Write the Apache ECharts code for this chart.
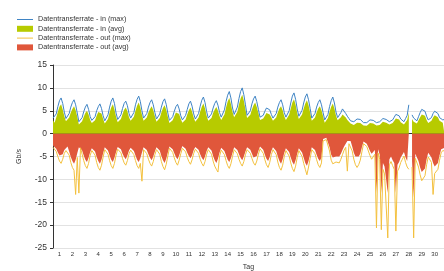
<!DOCTYPE html>
<html lang="de">
<head>
    <meta charset="UTF-8">
    <title>Datentransferrate</title>
    <script src="https://cdn.jsdelivr.net/npm/echarts@6.0.0/dist/echarts.min.js"></script>
</head>
<body>
<div id="chart" style="width: 444px;height: 271px"></div>
<script>
// 8 Messwerte pro Tag (alle 3 Stunden), Tag 1 beginnt bei x = 0
const SAMPLES_PER_DAY = 8
const dayLabels = ['1', '2', '3', '4', '5', '6', '7', '8', '9', '10', '11', '12', '13', '14', '15',
    '16', '17', '18', '19', '20', '21', '22', '23', '24', '25', '26', '27', '28', '29', '30']
const yTicks = [-25, -20, -15, -10, -5, 0, 5, 10, 15]

const inMax = [
    3.4, 3.0, 4.3, 5.9, 7.2, 7.8, 6.6, 4.7,
    3.3, 3.0, 4.4, 5.8, 6.8, 7.4, 6.3, 4.5,
    2.6, 2.2, 3.5, 4.8, 5.8, 6.4, 5.3, 3.7,
    2.9, 2.6, 3.7, 5.0, 5.9, 6.5, 5.5, 3.9,
    2.8, 2.4, 4.1, 5.8, 7.1, 7.8, 6.6, 4.5,
    3.1, 2.7, 4.1, 5.5, 6.6, 7.1, 6.1, 4.4,
    3.4, 3.0, 4.6, 6.3, 7.5, 8.2, 7.0, 5.0,
    3.4, 3.0, 4.4, 5.8, 6.8, 7.4, 6.3, 4.6,
    3.2, 2.8, 4.3, 5.8, 7.0, 7.6, 6.4, 4.5,
    2.9, 2.6, 3.7, 4.9, 5.9, 6.4, 5.4, 3.9,
    3.0, 2.6, 4.0, 5.3, 6.5, 7.1, 6.0, 4.3,
    3.2, 2.8, 4.4, 6.0, 7.3, 8.0, 6.8, 4.8,
    3.4, 3.0, 4.3, 5.6, 6.6, 7.2, 6.2, 4.6,
    3.6, 3.2, 5.2, 7.0, 8.4, 9.2, 7.8, 5.6,
    4.2, 3.8, 5.8, 7.7, 9.2, 10.0, 8.5, 6.3,
    4.0, 3.6, 5.0, 6.5, 7.6, 8.2, 7.0, 5.3,
    3.6, 3.2, 4.0, 4.9, 5.6, 6.0, 5.2, 4.2,
    3.4, 3.0, 4.4, 5.8, 6.8, 7.4, 6.3, 4.6,
    3.6, 3.2, 5.0, 6.7, 8.2, 8.9, 7.5, 5.4,
    3.8, 3.4, 5.1, 6.7, 8.0, 8.7, 7.4, 5.5,
    3.4, 3.0, 4.4, 5.8, 6.8, 7.4, 6.3, 4.6,
    3.0, 2.6, 4.2, 5.9, 7.2, 8.0, 6.7, 4.7,
    3.5, 3.2, 4.6, 5.4, 5.0, 4.4, 3.8, 3.3,
    2.8, 2.4, 2.6, 2.9, 3.2, 3.5, 3.1, 2.7,
    2.4, 2.1, 2.4, 2.7, 3.0, 3.2, 2.9, 2.5,
    2.4, 2.2, 2.6, 3.0, 3.3, 3.5, 3.1, 2.7,
    2.6, 2.4, 3.0, 3.6, 4.2, 4.5, 3.9, 3.2,
    2.9, 2.6, 3.3, 4.0, 6.3, null, 4.1, 3.4,
    3.1, 2.8, 3.7, 4.6, 5.3, 5.6, 4.9, 3.8,
    3.0, 2.7, 3.5, 4.4, 4.9, 5.2, 4.4, 3.5,
    3.1, 3.0, 3.1
]

const inAvg = [
    2.9, 2.4, 3.5, 4.8, 5.9, 6.4, 5.3, 3.8,
    2.7, 2.4, 3.5, 4.6, 5.4, 6.0, 5.1, 3.7,
    2.0, 1.6, 2.7, 3.7, 4.5, 5.0, 4.2, 3.0,
    2.3, 2.0, 2.9, 3.9, 4.7, 5.1, 4.4, 3.2,
    2.2, 1.8, 3.2, 4.6, 5.7, 6.4, 5.3, 3.7,
    2.5, 2.1, 3.2, 4.3, 5.2, 5.7, 4.9, 3.6,
    2.8, 2.4, 3.7, 5.0, 6.1, 6.8, 5.7, 4.1,
    2.8, 2.4, 3.5, 4.6, 5.4, 6.0, 5.1, 3.8,
    2.6, 2.2, 3.4, 4.6, 5.6, 6.2, 5.2, 3.7,
    2.3, 2.0, 2.9, 3.8, 4.6, 5.0, 4.3, 3.2,
    2.4, 2.0, 3.1, 4.2, 5.1, 5.7, 4.8, 3.5,
    2.6, 2.2, 3.5, 4.8, 5.9, 6.6, 5.5, 3.9,
    2.8, 2.4, 3.4, 4.5, 5.3, 5.8, 5.0, 3.8,
    3.0, 2.6, 4.2, 5.7, 7.0, 7.8, 6.5, 4.7,
    3.6, 3.2, 4.8, 6.4, 7.7, 8.5, 7.2, 5.3,
    3.4, 3.0, 4.1, 5.3, 6.2, 6.8, 5.8, 4.5,
    3.0, 2.6, 3.3, 3.9, 4.5, 4.8, 4.2, 3.5,
    2.8, 2.4, 3.5, 4.6, 5.5, 6.0, 5.1, 3.8,
    3.0, 2.6, 4.1, 5.5, 6.8, 7.5, 6.3, 4.5,
    3.2, 2.8, 4.2, 5.5, 6.6, 7.3, 6.2, 4.6,
    2.8, 2.4, 3.5, 4.6, 5.5, 6.0, 5.1, 3.8,
    2.4, 2.0, 3.4, 4.8, 5.9, 6.6, 5.5, 3.9,
    2.9, 2.6, 3.6, 4.2, 3.9, 3.5, 3.0, 2.6,
    2.2, 1.8, 1.9, 2.1, 2.4, 2.6, 2.3, 2.0,
    1.8, 1.5, 1.7, 2.0, 2.3, 2.5, 2.2, 1.9,
    1.8, 1.6, 1.9, 2.3, 2.6, 2.8, 2.4, 2.1,
    2.0, 1.8, 2.3, 2.8, 3.3, 3.6, 3.1, 2.5,
    2.2, 2.0, 2.5, 3.0, 4.6, null, 3.2, 2.6,
    2.4, 2.2, 2.9, 3.6, 4.2, 4.5, 3.9, 3.0,
    2.3, 2.1, 2.8, 3.5, 4.0, 4.3, 3.6, 2.8,
    2.5, 2.4, 2.5
]

const outMax = [
    -3.0, -2.9, -3.9, -5.0, -6.0, -6.5, -5.6, -4.3,
    -3.7, -3.3, -4.7, -6.3, -7.4, -8.0, -13.3, -5.2,
    -13.0, -3.1, -4.5, -5.9, -7.0, -7.6, -6.5, -4.7,
    -3.7, -3.3, -4.7, -6.3, -7.4, -8.0, -6.9, -5.1,
    -3.5, -3.1, -4.5, -5.9, -7.0, -7.6, -6.5, -4.7,
    -3.4, -3.0, -4.2, -5.4, -6.4, -6.9, -5.9, -4.4,
    -3.6, -3.3, -4.6, -5.9, -7.0, -7.6, -6.5, -10.4,
    -3.5, -3.1, -4.4, -5.6, -6.5, -7.1, -6.1, -4.6,
    -3.5, -3.1, -4.5, -6.1, -7.2, -7.9, -6.7, -4.9,
    -3.2, -2.9, -4.1, -5.3, -6.3, -6.9, -5.8, -4.4,
    -3.2, -2.9, -4.0, -5.2, -6.1, -6.7, -5.7, -4.3,
    -3.4, -3.0, -4.3, -5.6, -6.5, -7.1, -6.1, -4.5,
    -3.5, -3.1, -4.5, -6.0, -7.1, -7.8, -8.4, -4.9,
    -3.6, -3.3, -4.6, -5.9, -7.0, -7.6, -6.6, -5.0,
    -3.5, -3.1, -4.4, -5.6, -6.5, -7.1, -6.1, -4.6,
    -3.5, -3.1, -4.3, -5.4, -6.4, -6.9, -6.0, -4.5,
    -3.3, -2.9, -4.3, -5.7, -6.8, -7.4, -6.3, -4.6,
    -3.5, -3.1, -4.6, -6.2, -7.4, -8.0, -6.9, -5.0,
    -3.7, -3.3, -4.9, -6.4, -7.6, -8.3, -7.1, -5.2,
    -3.7, -3.3, -5.0, -6.5, -7.8, -9.0, -7.3, -5.4,
    -3.5, -3.1, -4.4, -5.7, -6.8, -7.4, -6.4, -1.6,
    -1.3, -1.3, -1.7, -3.8, -5.8, -6.6, -6.8, -6.2,
    -6.0, -6.4, -5.6, -4.6, -3.6, -3.0, -8.2, -2.2,
    -2.3, -3.8, -5.6, -6.8, -7.4, -6.8, -5.8, -4.0,
    -2.2, -2.1, -2.8, -3.8, -4.8, -5.6, -5.3, -4.5,
    -20.6, -4.2, -5.6, -21.0, -7.8, -8.8, -8.5, -22.8,
    -6.8, -6.1, -7.0, -7.8, -21.3, -8.2, -7.5, -6.3,
    -5.6, -4.9, -6.3, -7.3, -7.8, null, -7.3, -22.8,
    -5.4, -5.6, -7.3, -9.0, -10.3, -10.3, -9.2, -6.8,
    -5.1, -4.9, -6.3, -13.3, -8.7, -8.9, -7.8, -5.8,
    -4.2, -3.7, -3.8
]

const outAvg = [
    -2.6, -2.5, -3.3, -4.1, -4.8, -5.2, -4.5, -3.6,
    -3.2, -2.8, -3.9, -5.1, -6.0, -6.6, -5.7, -4.3,
    -3.0, -2.6, -3.7, -4.8, -5.7, -6.2, -5.3, -4.0,
    -3.2, -2.8, -3.9, -5.1, -6.0, -6.6, -5.7, -4.3,
    -3.0, -2.6, -3.7, -4.8, -5.7, -6.2, -5.3, -4.0,
    -2.9, -2.5, -3.4, -4.4, -5.1, -5.6, -4.8, -3.7,
    -3.1, -2.8, -3.8, -4.8, -5.7, -6.2, -5.4, -4.1,
    -3.0, -2.6, -3.6, -4.5, -5.3, -5.8, -5.0, -3.9,
    -3.0, -2.6, -3.7, -4.9, -5.8, -6.4, -5.5, -4.1,
    -2.8, -2.4, -3.4, -4.3, -5.1, -5.6, -4.8, -3.7,
    -2.7, -2.4, -3.3, -4.2, -4.9, -5.4, -4.7, -3.6,
    -2.9, -2.5, -3.5, -4.5, -5.3, -5.8, -5.0, -3.8,
    -3.0, -2.6, -3.7, -4.9, -5.8, -6.4, -5.5, -4.1,
    -3.1, -2.8, -3.8, -4.8, -5.7, -6.2, -5.4, -4.2,
    -3.0, -2.6, -3.6, -4.5, -5.3, -5.8, -5.0, -3.9,
    -3.0, -2.6, -3.5, -4.4, -5.2, -5.6, -4.9, -3.8,
    -2.8, -2.4, -3.5, -4.6, -5.5, -6.0, -5.1, -3.8,
    -3.0, -2.6, -3.8, -5.0, -6.0, -6.6, -5.6, -4.2,
    -3.2, -2.8, -4.0, -5.2, -6.2, -6.8, -5.8, -4.4,
    -3.2, -2.8, -4.1, -5.3, -6.4, -7.0, -6.0, -4.5,
    -3.0, -2.6, -3.6, -4.6, -5.5, -6.0, -5.2, -1.2,
    -0.9, -0.9, -1.2, -3.0, -4.6, -5.2, -5.4, -5.0,
    -4.8, -5.0, -4.4, -3.6, -2.8, -2.2, -1.6, -1.4,
    -1.6, -2.8, -4.2, -5.0, -5.3, -5.0, -4.4, -3.0,
    -1.7, -1.6, -2.2, -3.0, -3.8, -4.4, -4.2, -3.6,
    -13.0, -3.4, -4.6, -13.0, -6.4, -7.2, -7.0, -13.0,
    -5.6, -5.0, -5.8, -6.4, -13.0, -6.8, -6.2, -5.2,
    -4.6, -4.0, -5.2, -6.0, -6.4, null, -6.0, -14.0,
    -4.4, -4.6, -6.0, -7.4, -8.4, -8.6, -7.6, -5.6,
    -4.2, -4.0, -5.2, -6.4, -7.2, -7.4, -6.4, -4.8,
    -3.4, -3.0, -3.1
]

const toXY = arr => arr.map((v, i) => [i / SAMPLES_PER_DAY, v])

// duenne Linie als Legendensymbol (Punkte oben/unten halten die Hoehe)
const lineIcon = 'path://M0,0L0,0M0,2.5L16,2.5L16,3.5L0,3.5ZM16,6L16,6'

const chart = echarts.init(document.getElementById('chart'))
const font = 'Liberation Sans, Arial, sans-serif'
const option = {
    animation: false,
    textStyle: { fontFamily: font },
    legend: {
        orient: 'vertical',
        left: 12,
        top: 10,
        itemWidth: 16,
        itemHeight: 6,
        itemGap: 0.3,
        textStyle: { fontSize: 7.2, lineHeight: 9, color: '#333' },
        data: [
            { name: 'Datentransferrate - in (max)', icon: lineIcon },
            { name: 'Datentransferrate - in (avg)', icon: 'rect' },
            { name: 'Datentransferrate - out (max)', icon: lineIcon },
            { name: 'Datentransferrate - out (avg)', icon: 'rect' }
        ]
    },
    grid: { left: 53, right: 0, top: 65, bottom: 23, containLabel: false, outerBoundsMode: 'none' },
    xAxis: [
        {
            type: 'value',
            min: 0,
            max: 30.22,
            interval: 1,
            axisLine: { lineStyle: { color: '#333' } },
            axisTick: { length: 3, lineStyle: { color: '#333' } },
            axisLabel: { show: false },
            splitLine: { show: false }
        },
        {
            type: 'value',
            position: 'bottom',
            min: 0,
            max: 30.22,
            interval: 0.5,
            axisLine: { show: false },
            axisTick: { show: false },
            splitLine: { show: false },
            axisLabel: {
                margin: 3,
                fontSize: 6,
                color: '#333',
                showMaxLabel: false,
                formatter: v => {
                    const d = Math.round(v - 0.5)
                    if (Math.abs(v - 0.5 - d) > 1e-6) return ''
                    return dayLabels[d] || ''
                }
            },
            name: 'Tag',
            nameLocation: 'middle',
            nameGap: 16,
            nameTextStyle: { fontSize: 7, color: '#333' }
        }
    ],
    yAxis: {
        type: 'value',
        min: yTicks[0],
        max: yTicks[yTicks.length - 1],
        interval: 5,
        name: 'Gb/s',
        nameLocation: 'middle',
        nameGap: 30,
        nameTextStyle: { fontSize: 7, color: '#333' },
        axisLine: { show: true, lineStyle: { color: '#333' } },
        axisTick: { show: true, length: 3, lineStyle: { color: '#333' } },
        axisLabel: { fontSize: 8.5, color: '#333', margin: 6 },
        splitLine: { lineStyle: { color: '#e2e2e2' } }
    },
    series: [
        {
            name: 'Datentransferrate - in (max)',
            type: 'line',
            data: toXY(inMax),
            showSymbol: false,
            symbol: 'none',
            z: 3,
            color: '#3f84c4',
            lineStyle: { width: 1, color: '#3f84c4' }
        },
        {
            name: 'Datentransferrate - in (avg)',
            type: 'line',
            data: toXY(inAvg),
            showSymbol: false,
            symbol: 'none',
            color: '#b7cb00',
            lineStyle: { width: 0 },
            areaStyle: { color: '#b7cb00', opacity: 1 }
        },
        {
            name: 'Datentransferrate - out (max)',
            type: 'line',
            data: toXY(outMax),
            showSymbol: false,
            symbol: 'none',
            z: 3,
            color: '#f3c03e',
            lineStyle: { width: 1, color: '#f3c03e' }
        },
        {
            name: 'Datentransferrate - out (avg)',
            type: 'line',
            data: toXY(outAvg),
            showSymbol: false,
            symbol: 'none',
            color: '#e0573b',
            lineStyle: { width: 0 },
            areaStyle: { color: '#e0573b', opacity: 1 }
        }
    ]
}
chart.setOption(option)
</script>
</body>
<style>
    html, body {
        margin: 0;
        padding: 0;
    }
</style>
</html>
